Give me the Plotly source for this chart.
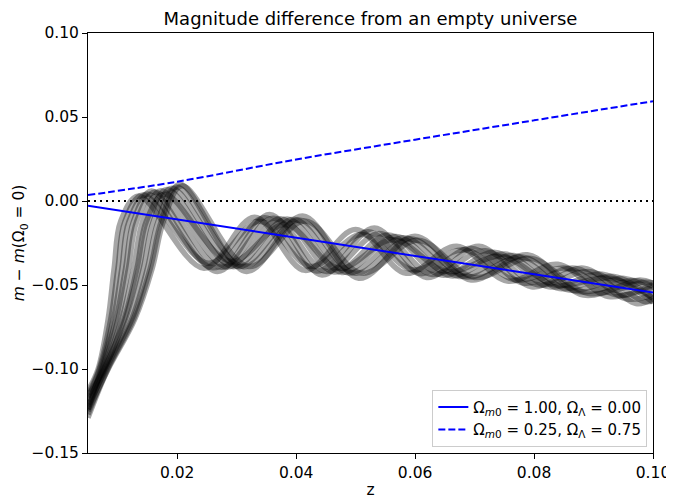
import plotly.graph_objects as go

# ---- data ----
z_line = [0.005, 0.02, 0.04, 0.06, 0.08, 0.1]
m_matter = [-0.0028, -0.0109, -0.0216, -0.0328, -0.0436, -0.0545]      # Om=1.00, OL=0.00
m_lambda = [0.0035, 0.0115, 0.0247, 0.0365, 0.0480, 0.0594]            # Om=0.25, OL=0.75
z_zero = [0.005, 0.1]
m_zero = [0.0, 0.0]

z_run1 = [0.005, 0.0067, 0.0084, 0.0094, 0.0105, 0.0135, 0.0245, 0.033, 0.0415, 0.050, 0.0585, 0.067, 0.0755, 0.084, 0.0925, 0.1]
m_run1 = [-0.113, -0.100, -0.070, -0.040, -0.012, 0.003, -0.040, -0.0096, -0.0413, -0.017, -0.043, -0.0269, -0.0477, -0.0377, -0.0568, -0.0497]

z_run2 = [0.005, 0.00687, 0.00885, 0.01004, 0.01122, 0.01423, 0.02525, 0.03385, 0.04245, 0.05105, 0.05965, 0.06825, 0.07685, 0.08545, 0.09405, 0.1]
m_run2 = [-0.115, -0.100, -0.070, -0.040, -0.012, 0.0036, -0.037, -0.012, -0.039, -0.020, -0.041, -0.029, -0.047, -0.040, -0.056, -0.051]

z_run3 = [0.005, 0.0070, 0.0093, 0.0107, 0.0119, 0.0150, 0.0260, 0.0347, 0.0434, 0.0521, 0.0608, 0.0695, 0.0782, 0.0869, 0.0956, 0.1]
m_run3 = [-0.117, -0.100, -0.070, -0.040, -0.012, 0.0042, -0.0398, -0.0099, -0.0417, -0.0183, -0.0432, -0.0282, -0.0488, -0.0400, -0.0583, -0.0555]

z_run4 = [0.005, 0.00721, 0.00975, 0.01132, 0.01266, 0.01569, 0.02675, 0.03555, 0.04435, 0.05315, 0.06195, 0.07075, 0.07955, 0.08835, 0.09715, 0.1]
m_run4 = [-0.124, -0.100, -0.070, -0.040, -0.012, 0.006, -0.042, -0.008, -0.044, -0.016, -0.0455, -0.027, -0.051, -0.040, -0.061, -0.058]

z_run5 = [0.005, 0.0074, 0.0101, 0.0118, 0.0132, 0.0163, 0.0274, 0.0362, 0.0451, 0.0540, 0.0629, 0.0718, 0.0806, 0.0895, 0.0984, 0.1]
m_run5 = [-0.121, -0.100, -0.070, -0.040, -0.012, 0.0053, -0.0395, -0.0102, -0.0420, -0.0194, -0.0437, -0.0296, -0.0499, -0.0421, -0.0597, -0.0595]

z_run6 = [0.005, 0.0076, 0.0107, 0.0127, 0.0142, 0.0173, 0.0284, 0.0374, 0.0464, 0.0555, 0.0645, 0.0735, 0.0825, 0.0915, 0.1]
m_run6 = [-0.119, -0.100, -0.070, -0.040, -0.012, 0.0061, -0.0393, -0.0105, -0.0423, -0.0203, -0.0441, -0.0306, -0.0510, -0.0436, -0.0603]

z_run7 = [0.005, 0.00772, 0.0111, 0.01324, 0.01482, 0.01788, 0.029, 0.0381, 0.0472, 0.0563, 0.0654, 0.0745, 0.0836, 0.0927, 0.1]
m_run7 = [-0.116, -0.100, -0.070, -0.040, -0.012, 0.004, -0.036, -0.014, -0.040, -0.023, -0.042, -0.033, -0.050, -0.046, -0.0578]

z_run8 = [0.005, 0.0078, 0.0113, 0.0136, 0.0152, 0.0183, 0.0294, 0.0385, 0.0477, 0.0568, 0.0660, 0.0751, 0.0843, 0.0934, 0.1]
m_run8 = [-0.124, -0.100, -0.070, -0.040, -0.012, 0.0069, -0.0391, -0.0107, -0.0425, -0.0211, -0.0445, -0.0316, -0.0521, -0.0449, -0.0581]

z_run9 = [0.005, 0.0080, 0.0119, 0.0143, 0.0160, 0.0191, 0.0303, 0.0396, 0.0488, 0.0581, 0.0674, 0.0766, 0.0859, 0.0952, 0.1]
m_run9 = [-0.122, -0.100, -0.070, -0.040, -0.012, 0.0076, -0.0391, -0.0109, -0.0428, -0.0219, -0.0449, -0.0325, -0.0530, -0.0461, -0.0538]

z_run10 = [0.005, 0.0082, 0.0124, 0.0150, 0.0168, 0.0199, 0.0311, 0.0405, 0.0499, 0.0592, 0.0686, 0.0780, 0.0874, 0.0968, 0.1]
m_run10 = [-0.127, -0.100, -0.070, -0.040, -0.012, 0.0083, -0.0391, -0.0113, -0.0430, -0.0225, -0.0452, -0.0333, -0.0539, -0.0473, -0.0510]

z_run11 = [0.005, 0.00832, 0.01268, 0.01548, 0.01734, 0.02044, 0.03163, 0.04108, 0.05053, 0.05998, 0.06943, 0.07888, 0.08833, 0.09778, 0.1]
m_run11 = [-0.129, -0.100, -0.070, -0.040, -0.012, 0.010, -0.042, -0.009, -0.046, -0.021, -0.047, -0.032, -0.056, -0.047, -0.049]

z_run12 = [0.005, 0.0084, 0.0129, 0.0158, 0.0177, 0.0208, 0.0320, 0.0415, 0.0510, 0.0605, 0.0700, 0.0795, 0.0890, 0.0985, 0.1]
m_run12 = [-0.125, -0.100, -0.070, -0.040, -0.012, 0.0090, -0.0390, -0.0119, -0.0430, -0.0233, -0.0455, -0.0342, -0.0549, -0.0484, -0.0488]

runs = [(z_run1, m_run1), (z_run2, m_run2), (z_run3, m_run3), (z_run4, m_run4),
        (z_run5, m_run5), (z_run6, m_run6), (z_run7, m_run7), (z_run8, m_run8),
        (z_run9, m_run9), (z_run10, m_run10), (z_run11, m_run11), (z_run12, m_run12)]

x_ticks = [0.02, 0.04, 0.06, 0.08, 0.10]
y_ticks = [-0.15, -0.10, -0.05, 0.00, 0.05, 0.10]

FONT = "DejaVu Sans"
TICK = 15.5
fig = go.Figure()

for zr, mr in runs:
    fig.add_trace(go.Scatter(x=zr, y=mr, mode="lines",
                             line=dict(color="rgba(0,0,0,0.35)", width=5.5, shape="spline", smoothing=1.0),
                             showlegend=False, hoverinfo="skip"))

fig.add_trace(go.Scatter(x=z_line, y=m_matter, mode="lines",
                         line=dict(color="#0000ff", width=2),
                         name="Ω<sub><i>m</i>0</sub> = 1.00, Ω<sub>Λ</sub> = 0.00"))
fig.add_trace(go.Scatter(x=z_line, y=m_lambda, mode="lines",
                         line=dict(color="#0000ff", width=2, dash="7px,3px", shape="spline"),
                         name="Ω<sub><i>m</i>0</sub> = 0.25, Ω<sub>Λ</sub> = 0.75"))
fig.add_trace(go.Scatter(x=z_zero, y=m_zero, mode="lines",
                         line=dict(color="black", width=2, dash="2px,4px"),
                         showlegend=False, hoverinfo="skip"))

axis_common = dict(showline=True, linecolor="black", linewidth=1, mirror=True,
                   ticks="outside", ticklen=5, tickwidth=1, tickcolor="black",
                   showgrid=False, zeroline=False, automargin=False,
                   tickfont=dict(family=FONT, size=TICK, color="black"))

fig.update_xaxes(range=[0.005, 0.1], tickvals=x_ticks, tickformat=".2f",
                 title=dict(text="z", font=dict(family=FONT, size=TICK, color="black"), standoff=3),
                 **axis_common)
fig.update_yaxes(range=[-0.15, 0.10], tickvals=y_ticks, tickformat=".2f",
                 title=dict(text="<i>m</i> − <i>m</i>(Ω<sub>0</sub> = 0)",
                            font=dict(family=FONT, size=TICK, color="black"), standoff=2),
                 **axis_common)

# page body has an 8px margin, so the figure is drawn 8px in from the window corner
W, H = 666, 492
fig.update_layout(
    width=W, height=H,
    margin=dict(l=80, r=21, t=25, b=47),
    paper_bgcolor="white", plot_bgcolor="white",
    font=dict(family=FONT, size=TICK, color="black"),
    title=dict(text="Magnitude difference from an empty universe", x=0.5, xref="paper",
               y=1 - 11 / H, yanchor="middle", font=dict(family=FONT, size=18, color="black")),
    legend=dict(x=0.99, y=0.015, xanchor="right", yanchor="bottom",
                bgcolor="rgba(255,255,255,0.8)", bordercolor="#cccccc", borderwidth=1,
                font=dict(family=FONT, size=15, color="black"), tracegroupgap=2, itemwidth=30),
    showlegend=True,
)

fig.write_html("out.html")
